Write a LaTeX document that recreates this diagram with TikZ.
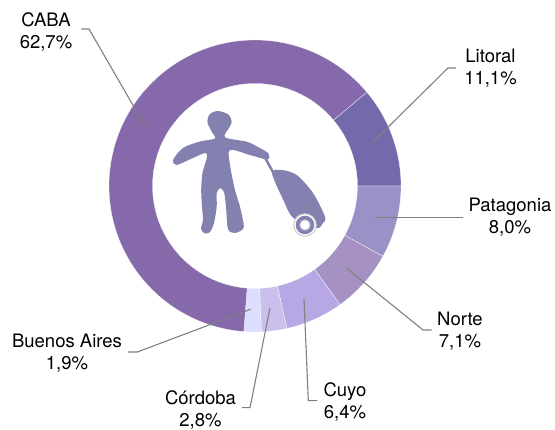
\documentclass[tikz,border=0pt]{standalone}
\usepackage{fontspec}
\setmainfont{TeX Gyre Heros}
\definecolor{cabacol}{RGB}{133,105,170}
\definecolor{litoralcol}{RGB}{114,106,170}
\definecolor{patagoniacol}{RGB}{155,145,198}
\definecolor{nortecol}{RGB}{165,146,195}
\definecolor{cuyocol}{RGB}{183,168,229}
\definecolor{cordobacol}{RGB}{203,192,236}
\definecolor{bsascol}{RGB}{221,221,255}
\definecolor{figcol}{RGB}{131,129,176}
\tikzset{
    lbl/.style={align=center, inner sep=0pt, font=\fontsize{18.5}{22}\selectfont},
    leader/.style={draw=black!50, line width=1.1pt},
    slice/.style={draw=white, line width=0.25pt}
}
\begin{document}
\begin{tikzpicture}[x=1pt, y=1pt]
    \useasboundingbox (0,0) rectangle (555,430);
    \coordinate (c) at (255,244);
    \foreach \a/\b/\col in {
        40/0/litoralcol, 0/-28.8/patagoniacol, -28.8/-54.4/nortecol,
        -54.4/-77.4/cuyocol, -77.4/-87.5/cordobacol, -87.5/-94.4/bsascol,
        -94.4/-320/cabacol}
    \draw[slice, fill=\col] ([shift={(\a:146)}]c)
        arc[start angle=\a, end angle=\b, radius=146]
        -- ([shift={(\b:102.5)}]c)
        arc[start angle=\b, end angle=\a, radius=102.5] -- cycle;
    \begin{scope}[shift={(0,430)}, yscale=-1]
    \node[lbl] (caba) at (46,31.5) {CABA\\62,7\%};
    \node[lbl] (litoral) at (490.5,68.5) {Litoral\\11,1\%};
    \node[lbl] (patagonia) at (510,217.5) {Patagonia\\8,0\%};
    \node[lbl] (norte) at (460,331.5) {Norte\\7,1\%};
    \node[lbl] (cuyo) at (345,401.5) {Cuyo\\6,4\%};
    \node[lbl] (cordoba) at (200.5,409.5) {Córdoba\\2,8\%};
    \node[lbl] (bsas) at (67,353.5) {Buenos Aires\\1,9\%};
    \foreach \n/\s/\d/\bx/\by/\ex/\ey in {
        caba/east/9/89/29/145.5/127, litoral/west/-8/448/68/372/143,
        norte/west/-5.5/423/330/346.7/268.3, cuyo/west/-6/308.3/400.7/304/299,
        cordoba/east/6/250/407.7/270/308, bsas/east/6/137.3/352/250.7/309.3}
    {
        \coordinate (\n bend) at (\bx,\by);
        \coordinate (\n tip) at (\ex,\ey);
        \draw[leader] (\n.\s |- \n bend) ++(\d,0) -- (\n bend) -- (\n tip);
    }
    \coordinate (patagonia tip) at (375,217.5);
    \draw[leader] (patagonia.west) ++(-5,0) -- (patagonia tip);
    % traveller
    \fill[figcol] plot[smooth cycle, tension=0.5] coordinates {
        (215,138.5) (211.7,131.7) (207.3,121.7) (210,114) (218,111) (228.3,114.5)
        (231.7,121.7) (229,128) (225,137.3) (246.7,141.7) (258,147) (268.3,153.3) (267.5,159.5)
        (250,155) (230,150) (230,165) (235,190) (240,206.7) (243.5,223)
        (243,229) (235,233) (228,229) (226,206.7) (224,192) (220,188.3) (216.7,193)
        (216.7,206.7) (214,223) (210,232) (205,233.5) (201,229) (203,220) (202,206.7) (201.2,190)
        (202.5,173) (207,157) (205,153) (193,158) (176.7,165) (173,160) (183,148)
        (200,141.5)};
    \draw[figcol, line width=2.5pt] (265.5,158.5) -- (274,174);
    \fill[figcol] plot[smooth cycle, tension=0.5] coordinates {
        (272,173) (281.7,170) (296.7,175) (313,193) (325,216.7) (323,223)
        (316.7,228) (293.3,218) (283.3,200)};
    % wheel
    \node[circle, fill=white, draw=black!20, line width=1pt, minimum size=22.5pt, inner sep=0pt] (wheel) at (305,225) {};
    \node[circle, fill=figcol, minimum size=18.5pt, inner sep=0pt] (tyre) at (wheel) {};
    \node[circle, fill=white, draw=figcol!35, line width=1.2pt, minimum size=10pt, inner sep=0pt] (hub) at (wheel) {};
    \end{scope}
\end{tikzpicture}
\end{document}
